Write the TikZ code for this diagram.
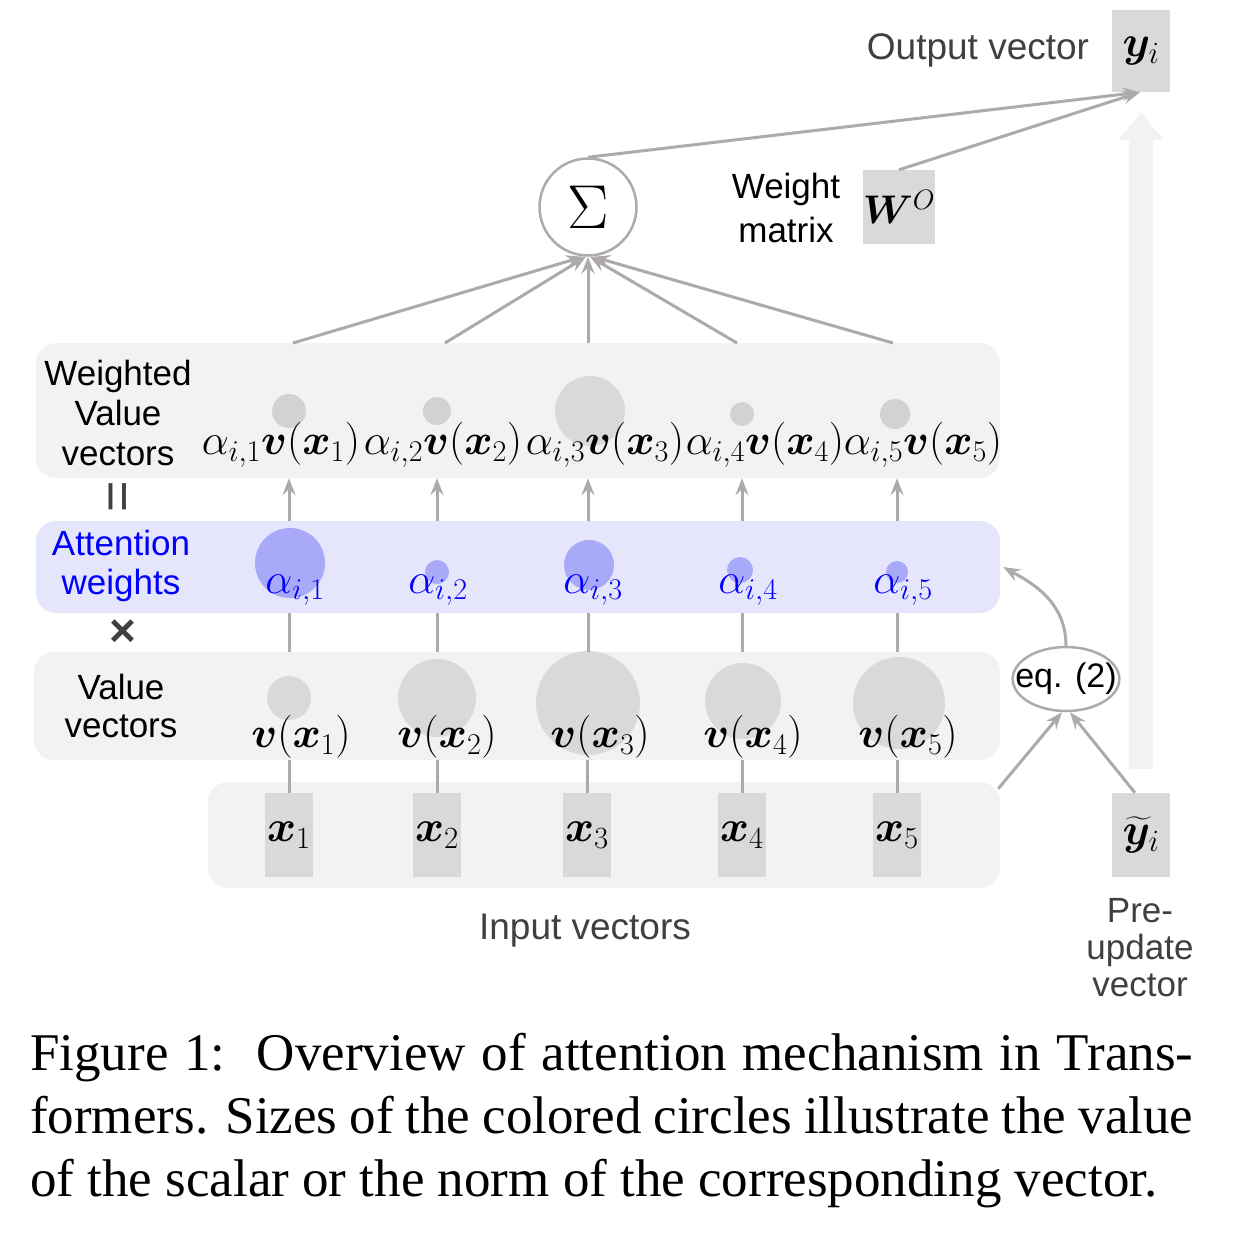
\RequirePackage{fix-cm}
\documentclass[tikz,border=0pt]{standalone}
\usepackage{amsmath}
\usepackage{bm}
\usepackage{fontspec}
\setmainfont{Liberation Serif}
\newfontfamily\lsans{Liberation Sans}
\usetikzlibrary{arrows.meta,shapes.geometric,calc}
\definecolor{lineg}{HTML}{AEAAAA}
\definecolor{panelg}{HTML}{F2F2F2}
\definecolor{circg}{HTML}{D9D9D9}
\definecolor{wcircg}{HTML}{D3D2D2}
\definecolor{attbg}{HTML}{E5E5FB}
\definecolor{bluec}{HTML}{A9A9FA}
\definecolor{bluet}{HTML}{0000FF}
\definecolor{darkg}{HTML}{404040}
\definecolor{bigar}{HTML}{F2F2F2}
\begin{document}
\begin{tikzpicture}[x=1pt,y=-1pt,
  conn/.style={draw=lineg, line width=3pt},
  arr/.style={conn, -{Stealth[length=17pt,width=13pt,inset=6pt]}},
  panel/.style={fill=#1, draw=none, rounded corners=20pt, inner sep=0},
  vecbox/.style={fill=circg, draw=none, inner sep=0, font=\fontsize{44}{48}\selectfont},
  lbl/.style={font=\lsans\fontsize{35}{40}\selectfont, align=center, inner sep=0},
  biglbl/.style={font=\lsans\fontsize{37}{42}\selectfont, align=center, inner sep=0, text=darkg},
  mth/.style={font=\fontsize{43}{46}\selectfont, inner sep=0},
  dot/.style={circle, fill=#1, draw=none, inner sep=0}
]
\useasboundingbox (0,0) rectangle (1236,1240);

% output and pre-update vectors, big light arrow
\node[vecbox, minimum width=58pt, minimum height=82pt] (yi) at (1141,51) {$\bm{y}_i$};
\node[vecbox, minimum width=58pt, minimum height=84pt] (yt) at (1141,835) {$\widetilde{\bm{y}}_i$};
\draw[draw=bigar, line width=24pt, -{Triangle[length=28pt,width=44pt]}] ([yshift=24pt]yt.north) -- ([yshift=-20pt]yi.south);

% panels
\node[panel=panelg, minimum width=964pt, minimum height=135pt] (wp) at (518,410.5) {};
\node[panel=attbg, minimum width=964pt, minimum height=92pt] (ap) at (518,567) {};
\node[panel=panelg, minimum width=966pt, minimum height=108pt] (vp) at (517,706) {};
\node[panel=panelg, minimum width=792pt, minimum height=106pt] (ip) at (604,835) {};

% circles: weighted value vectors
\node[dot=wcircg, minimum size=34pt] (wc1) at (289,411) {};
\node[dot=wcircg, minimum size=28pt] (wc2) at (437,411) {};
\node[dot=circg, minimum size=70pt] (wc3) at (590,411) {};
\node[dot=wcircg, minimum size=24pt] (wc4) at (742,414) {};
\node[dot=wcircg, minimum size=30pt] (wc5) at (895,414) {};
% attention weights
\node[dot=bluec, minimum size=70pt] (ac1) at (290,563) {};
\node[dot=bluec, minimum size=24pt] (ac2) at (437,572) {};
\node[dot=bluec, minimum size=50pt] (ac3) at (589,565) {};
\node[dot=bluec, minimum size=26pt] (ac4) at (740,570) {};
\node[dot=bluec, minimum size=22pt] (ac5) at (897,572) {};
% value vectors
\node[dot=circg, minimum size=44pt] (vc1) at (289,698) {};
\node[dot=circg, minimum size=78pt] (vc2) at (437,698) {};
\node[dot=circg, minimum size=104pt] (vc3) at (588,703) {};
\node[dot=circg, minimum size=76pt] (vc4) at (743,701) {};
\node[dot=circg, minimum size=92pt] (vc5) at (899,703) {};

% column coordinates
\coordinate (c1) at (289,0);
\coordinate (c2) at (437,0);
\coordinate (c3) at (588,0);
\coordinate (c4) at (742,0);
\coordinate (c5) at (897,0);

% input boxes
\node[vecbox, minimum width=48pt, minimum height=84pt] (x1) at (289,835) {$\bm{x}_1$};
\node[vecbox, minimum width=48pt, minimum height=84pt] (x2) at (437,835) {$\bm{x}_2$};
\node[vecbox, minimum width=48pt, minimum height=84pt] (x3) at (587,835) {$\bm{x}_3$};
\node[vecbox, minimum width=48pt, minimum height=84pt] (x4) at (742,835) {$\bm{x}_4$};
\node[vecbox, minimum width=48pt, minimum height=84pt] (x5) at (897,835) {$\bm{x}_5$};

% panel labels
\node[lbl] (wlab) at (118,413) {Weighted\\Value\\vectors};
\node[lbl, text=bluet, font=\lsans\fontsize{35}{39}\selectfont] (alab) at (121,566) {Attention\\weights};
\node[lbl, font=\lsans\fontsize{35}{38}\selectfont] (vlab) at (121,706) {Value\\vectors};
\node[inner sep=0, rotate=90, text=darkg, font=\lsans\fontsize{54}{54}\selectfont] (eqsign) at (122,497) {=};
\node[inner sep=0, text=darkg, font=\lsans\bfseries\fontsize{46}{46}\selectfont] (times) at (123,633) {×};

% weighted terms
\node[mth] (wt1) at (281,445) {$\alpha_{i,1}\bm{v}(\bm{x}_1)$};
\node[mth] (wt2) at (443,445) {$\alpha_{i,2}\bm{v}(\bm{x}_2)$};
\node[mth] (wt3) at (605,445) {$\alpha_{i,3}\bm{v}(\bm{x}_3)$};
\node[mth] (wt4) at (765,445) {$\alpha_{i,4}\bm{v}(\bm{x}_4)$};
\node[mth] (wt5) at (923,445) {$\alpha_{i,5}\bm{v}(\bm{x}_5)$};
% attention labels
\node[mth, text=bluet] (al1) at (295,590) {$\alpha_{i,1}$};
\node[mth, text=bluet] (al2) at (438,590) {$\alpha_{i,2}$};
\node[mth, text=bluet] (al3) at (593,590) {$\alpha_{i,3}$};
\node[mth, text=bluet] (al4) at (748,590) {$\alpha_{i,4}$};
\node[mth, text=bluet] (al5) at (903,590) {$\alpha_{i,5}$};
% value labels
\node[mth] (vl1) at (301,737) {$\bm{v}(\bm{x}_1)$};
\node[mth] (vl2) at (447,737) {$\bm{v}(\bm{x}_2)$};
\node[mth] (vl3) at (600,737) {$\bm{v}(\bm{x}_3)$};
\node[mth] (vl4) at (753,737) {$\bm{v}(\bm{x}_4)$};
\node[mth] (vl5) at (908,737) {$\bm{v}(\bm{x}_5)$};

% sum, weight matrix, output
\node[circle, draw=lineg, line width=2.5pt, fill=white, minimum size=97pt, inner sep=0, font=\fontsize{62}{62}\selectfont] (sigma) at (588,207) {$\Sigma$};
\node[lbl, font=\lsans\fontsize{35}{44}\selectfont] (wmlab) at (786,208) {Weight\\matrix};
\node[vecbox, minimum width=66pt, minimum height=74pt, font=\fontsize{40}{44}\selectfont] (wo) at (899,207) {$\bm{W}^{O}$};
\node[biglbl] (outlab) at (978,50) {Output vector};
\node[biglbl] (inlab) at (585,931) {Input vectors};
\node[lbl, text=darkg, font=\lsans\fontsize{35}{37}\selectfont] (prelab) at (1140,948) {Pre-\\update\\vector};
\node[ellipse, draw=lineg, line width=2.5pt, fill=white, minimum width=106pt, minimum height=64pt, inner xsep=-13pt, inner ysep=0pt, font=\lsans\fontsize{34}{40}\selectfont] (eq) at (1066,679) {eq. (2)};

% connectors: input -> value -> attention -> weighted
\foreach \i in {1,...,5} {
  \draw[conn] (x\i.north) -- (x\i.north |- vp.south);
  \draw[conn] (c\i |- vp.north) -- (c\i |- ap.south);
  \draw[arr] (c\i |- ap.north) -- (c\i |- wp.south);
}
% weighted -> sigma
\coordinate (s1) at (293,343);
\coordinate (s2) at (445,343);
\coordinate (s3) at (588,343);
\coordinate (s4) at (737,343);
\coordinate (s5) at (893,343);
\draw[arr] (s1) -- ([xshift=-5pt]sigma.south);
\draw[arr] (s2) -- ([xshift=-2pt]sigma.south);
\draw[arr] (s3) -- (sigma.south);
\draw[arr] (s4) -- ([xshift=2pt]sigma.south);
\draw[arr] (s5) -- ([xshift=5pt]sigma.south);
% sigma, W -> output
\draw[arr] (sigma.north) -- ([xshift=-1pt]yi.south);
\draw[arr] (wo.north) -- ([xshift=-1pt]yi.south);
% eq (2)
\draw[arr] ([shift={(-2pt,-7pt)}]ip.north east) -- ([xshift=-4pt]eq.south);
\draw[arr] ([xshift=-6pt]yt.north) -- ([xshift=4pt]eq.south);
\draw[arr] (eq.north) .. controls ([yshift=45pt]eq.north) and ([shift={(30pt,-15pt)}]ap.east) .. ([xshift=3pt]ap.east);

% caption
\node[anchor=base west, inner sep=0, font=\fontsize{53}{63}\selectfont] (cap1) at (30,1070) {\makebox[1163pt][s]{Figure 1:\ \ Overview of attention mechanism in Trans-}};
\node[anchor=base west, inner sep=0, font=\fontsize{53}{63}\selectfont] (cap2) at (30,1133) {\makebox[1163pt][s]{formers. Sizes of the colored circles illustrate the value}};
\node[anchor=base west, inner sep=0, font=\fontsize{53}{63}\selectfont] (cap3) at (30,1196) {of the scalar or the norm of the corresponding vector.};
\end{tikzpicture}
\end{document}
